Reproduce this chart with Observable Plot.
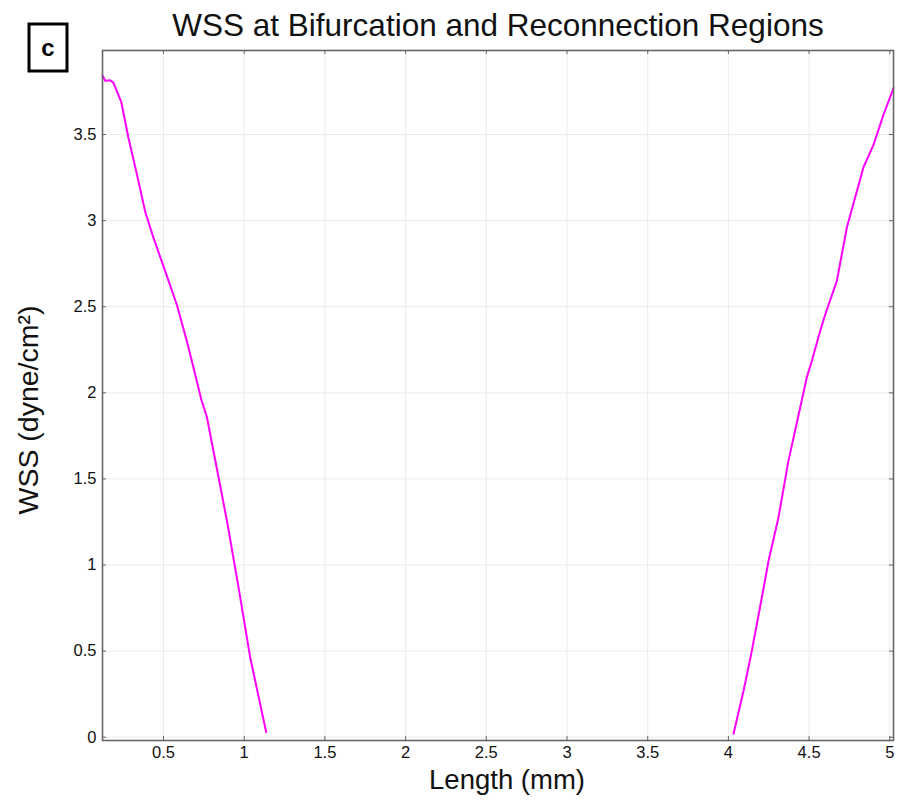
<!DOCTYPE html>
<html>
<head>
<meta charset="utf-8">
<script src="https://cdn.jsdelivr.net/npm/d3@7"></script>
<script src="https://cdn.jsdelivr.net/npm/@observablehq/plot@0.6"></script>
<style>
  html, body { margin: 0; padding: 0; background: #fff; }
  svg { display: block; }
</style>
</head>
<body>
<div id="chart"></div>
<script>
// Bifurcation region (left)
const bifLength = [0.122, 0.139, 0.17, 0.19, 0.238, 0.283, 0.335, 0.387, 0.438, 0.51, 0.583, 0.645, 0.696, 0.733, 0.769, 0.841, 0.893, 0.965, 1.037, 1.136];
const bifWSS    = [3.843, 3.812, 3.815, 3.80, 3.69, 3.48, 3.27, 3.05, 2.90, 2.708, 2.51, 2.30, 2.108, 1.965, 1.858, 1.51, 1.257, 0.87, 0.464, 0.03];
// Reconnection region (right)
const recLength = [4.032, 4.094, 4.145, 4.207, 4.249, 4.31, 4.372, 4.445, 4.486, 4.517, 4.569, 4.6, 4.672, 4.734, 4.837, 4.899, 4.961, 5.023];
const recWSS    = [0.02, 0.27, 0.5, 0.81, 1.025, 1.275, 1.605, 1.915, 2.09, 2.185, 2.36, 2.455, 2.65, 2.96, 3.31, 3.44, 3.615, 3.77];

const xTicks = [0.5, 1, 1.5, 2, 2.5, 3, 3.5, 4, 4.5, 5];
const yTicks = [0, 0.5, 1, 1.5, 2, 2.5, 3, 3.5];
const xDomain = [0.122, 5.023];
const yDomain = [-0.019, 3.988];

const titleText = "WSS at Bifurcation and Reconnection Regions";
const xLabel = "Length (mm)";
const yLabel = "WSS (dyne/cm²)";
const panelLabel = "c";

const bif = bifLength.map((x, i) => ({x, y: bifWSS[i]}));
const rec = recLength.map((x, i) => ({x, y: recWSS[i]}));

const W = 898, H = 801;
const mL = 102, mR = 5, mT = 50, mB = 61;
const plotH = H - mT - mB, plotW = W - mL - mR;
const tick = 4;
const font = "'Liberation Sans', Arial, Helvetica, sans-serif";

const chart = Plot.plot({
  width: W,
  height: H,
  marginLeft: mL,
  marginRight: mR,
  marginTop: mT,
  marginBottom: mB,
  style: {fontFamily: font, color: "#111", background: "#fff"},
  x: {domain: xDomain},
  y: {domain: yDomain},
  marks: [
    Plot.gridX(xTicks, {stroke: "#ebebeb", strokeOpacity: 1}),
    Plot.gridY(yTicks, {stroke: "#ebebeb", strokeOpacity: 1}),
    Plot.axisX(xTicks, {tickSize: 0, tickPadding: 6, fontSize: 16.5, tickFormat: d => String(d), label: null, fill: "#111"}),
    Plot.axisY(yTicks, {tickSize: 0, tickPadding: 6, fontSize: 16.5, tickFormat: d => String(d), label: null, fill: "#111"}),
    // inward ticks on all four sides
    Plot.ruleX(xTicks, {insetTop: plotH - tick, stroke: "#666"}),
    Plot.ruleX(xTicks, {insetBottom: plotH - tick, stroke: "#666"}),
    Plot.ruleY(yTicks, {insetRight: plotW - tick, stroke: "#666"}),
    Plot.ruleY(yTicks, {insetLeft: plotW - tick, stroke: "#666"}),
    Plot.lineY(bif, {x: "x", y: "y", stroke: "#ff00ff", strokeWidth: 2}),
    Plot.lineY(rec, {x: "x", y: "y", stroke: "#ff00ff", strokeWidth: 2}),
    Plot.frame({stroke: "#666", strokeWidth: 1.6}),
    Plot.text([titleText], {frameAnchor: "top", dy: -25, fontSize: 31.5, fill: "#111", lineAnchor: "middle"}),
    Plot.text([xLabel], {frameAnchor: "bottom", dx: 9, dy: 40, fontSize: 27.5, fill: "#111", lineAnchor: "middle"})
  ]
});

const svg = d3.select(chart);
svg.append("text")
  .attr("transform", "translate(28,410) rotate(-90)")
  .attr("text-anchor", "middle").attr("dy", "0.35em")
  .attr("font-family", font).attr("font-size", 28.5)
  .attr("fill", "#111")
  .text(yLabel);
svg.append("rect")
  .attr("x", 29).attr("y", 24).attr("width", 38).attr("height", 47)
  .attr("fill", "#fff").attr("stroke", "#000").attr("stroke-width", 3);
svg.append("text")
  .attr("x", 48).attr("y", 48).attr("dy", "0.35em")
  .attr("text-anchor", "middle")
  .attr("font-family", font).attr("font-weight", "bold").attr("font-size", 24)
  .attr("fill", "#000")
  .text(panelLabel);

document.getElementById("chart").appendChild(chart);
</script>
</body>
</html>
